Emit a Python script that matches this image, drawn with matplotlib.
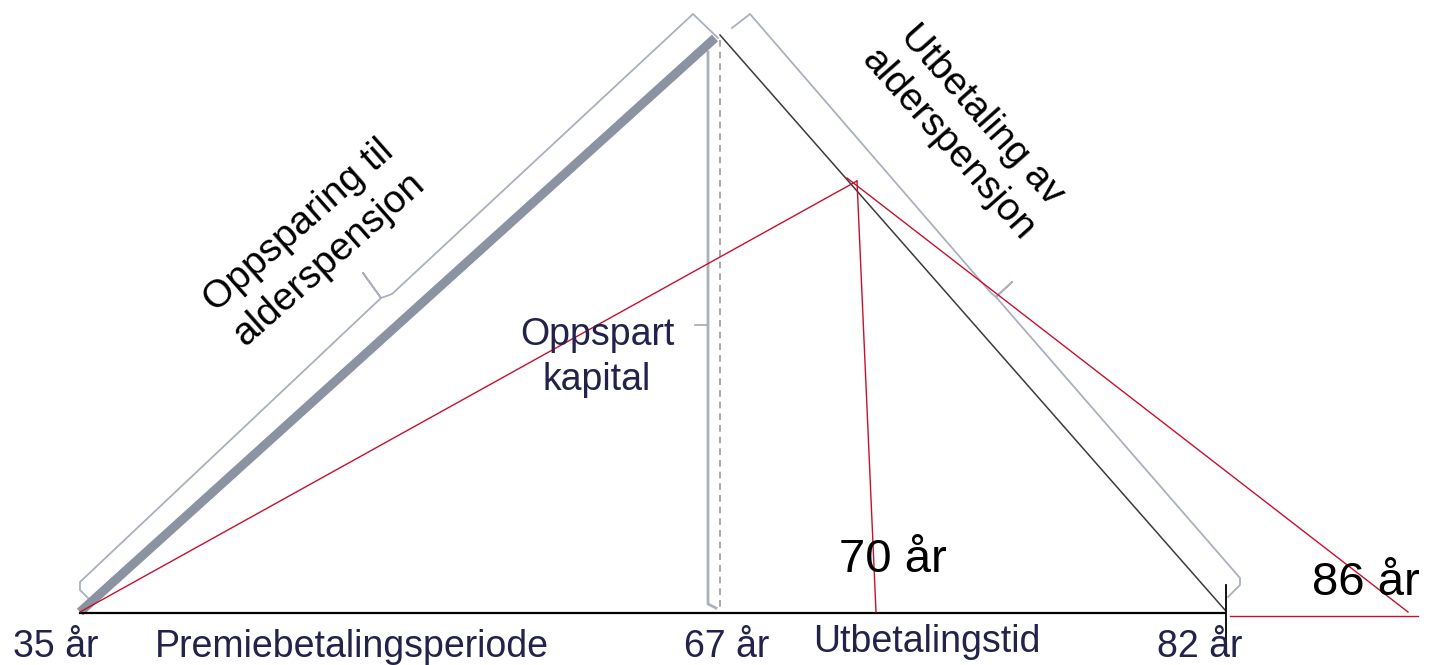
import matplotlib.pyplot as plt

plt.rcParams['font.family'] = ['Liberation Sans', 'DejaVu Sans']

# Diagram geometry (pixel space of the original sketch, y grows downwards)
base_y = 613
start_x = 80          # 35 år
peak_x, peak_y = 718, 35   # 67 år, top of the saved capital
end_x = 1225          # 82 år
red_peak = (857, 181)
red_70_x = 876
red_86_x = 1408
red_tail_x = [1230, 1418]
red_tail_y = 616

# bracket polylines
left_brace_x = [90, 80, 80, 381, 363, 381, 392, 693, 718]
left_brace_y = [600, 590, 582, 298, 273, 298, 294, 14, 38]
right_brace_x = [732, 750, 991, 996, 1012, 996, 1240, 1240, 1228]
right_brace_y = [28, 14, 293, 297, 282, 297, 578, 585, 597]
mid_brace_x = [708, 708, 716]
mid_brace_y = [52, 604, 608]
mid_tick_x = [695, 708]
mid_tick_y = [325, 325]

# labels
age_labels = ['35 år', '67 år', '82 år']
age_label_x = [56, 727, 1200]
period_labels = ['Premiebetalingsperiode', 'Utbetalingstid']
period_label_x = [352, 927]
red_labels = ['70 år', '86 år']
red_label_pos = [(893, 572), (1366, 595)]

navy = '#22224a'
red = '#c8102e'
brace = '#aab1bd'

fig = plt.figure(figsize=(14.29, 6.65), dpi=100)
ax = fig.add_axes([0, 0, 1, 1])
ax.set_xlim(0, 1429)
ax.set_ylim(665, 0)
ax.axis('off')

# braces
ax.plot(left_brace_x, left_brace_y, color=brace, lw=1.3, solid_joinstyle='round')
ax.plot(right_brace_x, right_brace_y, color=brace, lw=1.3, solid_joinstyle='round')
ax.plot(mid_brace_x, mid_brace_y, color=brace, lw=2.0, solid_joinstyle='round')
ax.plot(mid_tick_x, mid_tick_y, color=brace, lw=1.3)

# dashed vertical at 67
ax.plot([peak_x + 2, peak_x + 2], [peak_y + 5, base_y - 5], color='#9a9a9a',
        lw=1.2, linestyle=(0, (4, 3)))

# saving phase (thick) and payout phase (thin)
ax.plot([start_x, peak_x - 3], [base_y - 1, peak_y + 3], color='#8b93a3', lw=6.5,
        solid_capstyle='butt')
ax.plot([peak_x + 2, end_x], [peak_y, base_y - 3], color='#3a3a3a', lw=1.1)

# base line and tick at 82
ax.plot([start_x, end_x], [base_y, base_y], color='black', lw=1.6)
ax.plot([end_x + 1, end_x + 1], [585, 640], color='black', lw=1.3)

# red annotations
ax.plot([start_x, red_peak[0]], [base_y - 1, red_peak[1]], color=red, lw=1.0)
ax.plot([red_peak[0], red_70_x], [red_peak[1], base_y - 1], color=red, lw=1.0)
ax.plot([red_peak[0] - 10, red_86_x], [red_peak[1] - 3, base_y - 1], color=red, lw=1.0)
ax.plot(red_tail_x, [red_tail_y, red_tail_y], color=red, lw=1.0)

# bottom labels
for lab, x in zip(age_labels, age_label_x):
    ax.text(x, 657, lab, color=navy, fontsize=27, ha='center', va='baseline')
for lab, x, y in zip(period_labels, period_label_x, [657, 652]):
    ax.text(x, y, lab, color=navy, fontsize=27, ha='center', va='baseline')

ax.text(597, 345, 'Oppspart', color=navy, fontsize=27, ha='center', va='baseline')
ax.text(597, 390, 'kapital', color=navy, fontsize=27, ha='center', va='baseline')

for lab, (x, y) in zip(red_labels, red_label_pos):
    ax.text(x, y, lab, color='black', fontsize=34, ha='center', va='baseline')

# rotated labels along the two phases
ax.text(314, 243, 'Oppsparing til\nalderspensjon', color='black', fontsize=28,
        rotation=41.5, rotation_mode='anchor', ha='center', va='center',
        multialignment='center', linespacing=1.3)
ax.text(965, 130, 'Utbetaling av\nalderspensjon', color='black', fontsize=28,
        rotation=-48.5, rotation_mode='anchor', ha='center', va='center',
        multialignment='center', linespacing=1.3)

fig.savefig('out.png', dpi=100)
